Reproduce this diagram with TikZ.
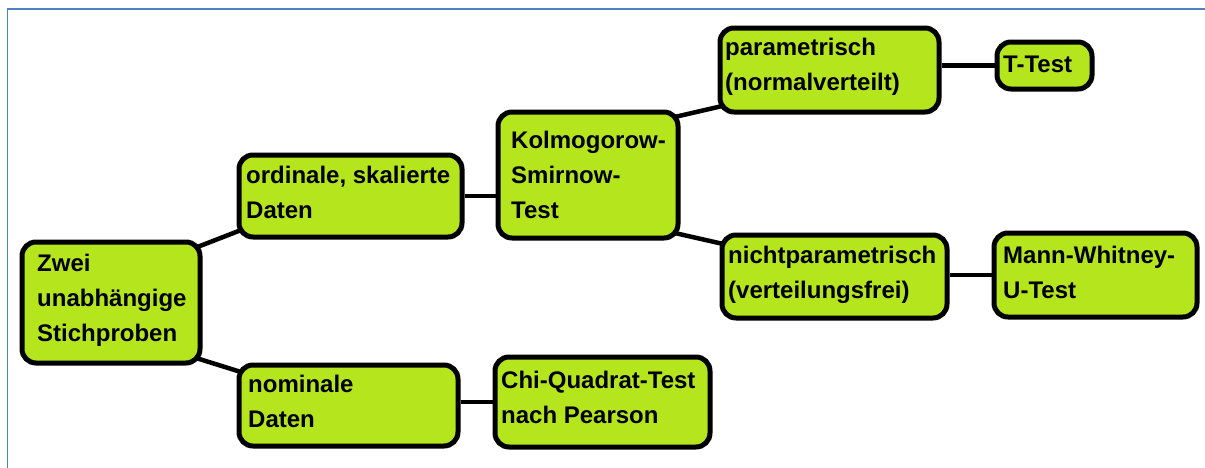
\documentclass[tikz,border=0pt]{standalone}
\usepackage{fontspec}
\setmainfont{Liberation Sans}
\usetikzlibrary{calc,backgrounds}
\definecolor{limefill}{HTML}{B5E61D}
\definecolor{framecol}{HTML}{4F81BD}
\tikzset{
  greenbox/.style={draw=black, line width=5pt, fill=limefill, rounded corners=14pt, inner sep=0pt},
  boxtext/.style={font=\fontsize{24}{35}\selectfont\bfseries, align=left, inner sep=0pt, anchor=base west},
  link/.style={draw=black, line width=4.5pt}
}
\newcommand\mybox[5]{\node[greenbox, minimum width={#4-#2-5}, minimum height={#5-#3-5}, anchor=north west] (#1) at ({#2+2.5},{#3+2.5}) {};}
\begin{document}
\begin{tikzpicture}[x=1pt,y=-1pt]
\useasboundingbox (0,0) rectangle (1205,467);
\draw[framecol, line width=1.6pt] (7.5,470) -- (7.5,9) -- (1210,9);

\mybox{zwei}{17}{237}{200}{363}
\mybox{ordinale}{234}{150}{462}{237}
\mybox{nominale}{234}{360}{458}{446}
\mybox{kolmo}{493}{107}{678}{238}
\mybox{chi}{490}{352}{710}{447}
\mybox{param}{715}{23}{939}{112}
\mybox{nicht}{717}{230}{947}{318}
\mybox{ttest}{992}{37}{1092}{89}
\mybox{mann}{989}{228}{1197}{317}

% base anchor = baseline of the last line
\node[boxtext] (zweiT) at (37,341) {Zwei\\unabhängige\\Stichproben};
\node[boxtext] (ordinaleT) at (246,218) {ordinale, skalierte\\Daten};
\node[boxtext] (nominaleT) at (248,427) {nominale\\Daten};
\node[boxtext] (kolmoT) at (511,218) {Kolmogorow-\\Smirnow-\\Test};
\node[boxtext] (chiT) at (501,423) {Chi-Quadrat-Test\\nach Pearson};
\node[boxtext] (paramT) at (725,90) {parametrisch\\(normalverteilt)};
\node[boxtext] (nichtT) at (728,298) {nichtparametrisch\\(verteilungsfrei)};
\node[boxtext] (ttestT) at (1003,72) {T-Test};
\node[boxtext] (mannT) at (1003,298) {Mann-Whitney-\\U-Test};

\begin{scope}[on background layer]
\draw[link] ($(zwei.north east)+(-9,9)$) -- ($(ordinale.south west)+(6,-10)$);
\draw[link] ($(zwei.south east)+(-8,-8)$) -- ($(nominale.north west)+(6,10)$);
\draw[link] (ordinale.east) -- (kolmo.west |- ordinale.east);
\draw[link] ($(kolmo.north east)+(-8,8)$) -- ($(param.south west)+(7,-9)$);
\draw[link] ($(kolmo.south east)+(-8,-8)$) -- ($(nicht.north west)+(6,12)$);
\draw[link] (chi.west) -- (nominale.east |- chi.west);
\draw[link] (ttest.west) -- (param.east |- ttest.west);
\draw[link] (mann.west) -- (nicht.east |- mann.west);
\end{scope}
\end{tikzpicture}
\end{document}
